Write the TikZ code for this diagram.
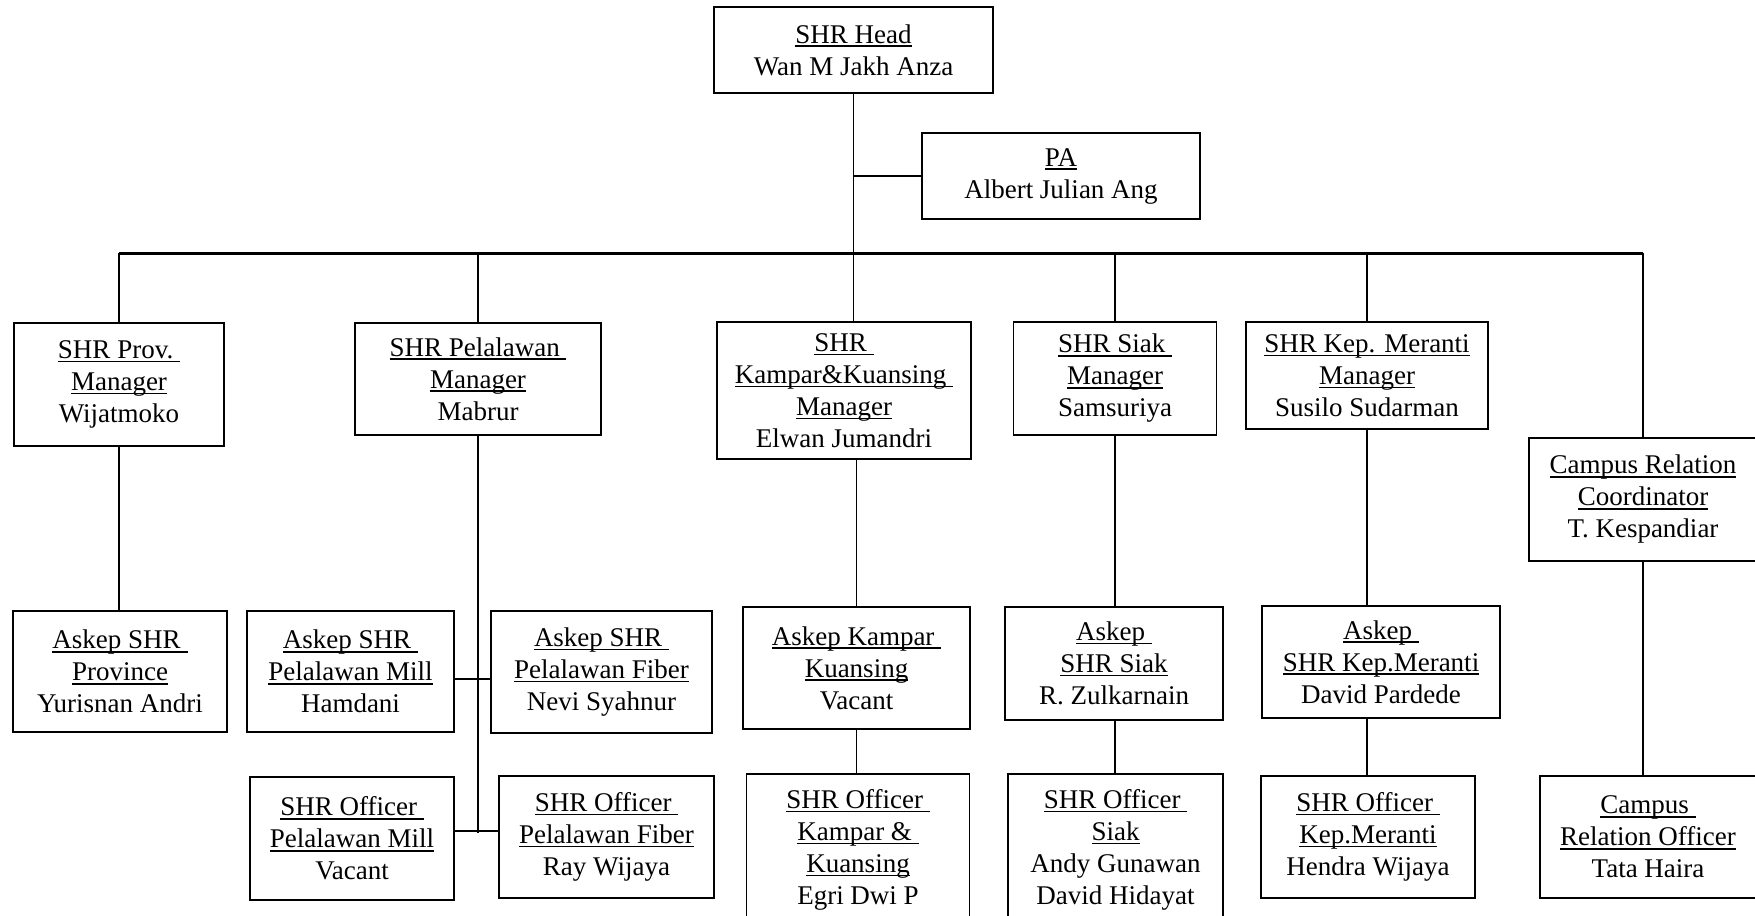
\documentclass[tikz,border=0pt]{standalone}
\usepackage{fontspec}
\setmainfont{Liberation Serif}
\newcommand{\ulined}[1]{\setbox0\hbox{#1}\rlap{\rule[-1.9pt]{\wd0}{0.8pt}}\box0}
\tikzset{
  unit/.style={draw, rectangle, line width=0.75pt, align=center, inner sep=2pt,
    font=\fontsize{13.5}{16}\selectfont},
  link/.style={line width=0.75pt},
  busline/.style={line width=1.5pt}
}
\begin{document}
\begin{tikzpicture}[x=0.5pt, y=-0.5pt]
\useasboundingbox (0,0) rectangle (1755,915);
% top
\node[unit, minimum width=139.5pt, minimum height=43pt] (head) at (853.5,50) {\ulined{SHR Head}\\Wan M Jakh Anza};
\node[unit, minimum width=139pt, minimum height=43pt] (pa) at (1061,176) {\ulined{PA}\\Albert Julian Ang};
% managers
\node[unit, minimum width=105pt, minimum height=61.5pt] (prov) at (119,384.5) {\ulined{SHR Prov.\ }\\\ulined{Manager}\\Wijatmoko};
\node[unit, minimum width=123pt, minimum height=56pt] (pel) at (478,379) {\ulined{SHR Pelalawan\ }\\\ulined{Manager}\\Mabrur};
\node[unit, minimum width=127pt, minimum height=68.5pt] (kam) at (844,390.5) {\ulined{SHR\ }\\\ulined{Kampar\&Kuansing\ }\\\ulined{Manager}\\Elwan Jumandri};
\node[unit, minimum width=101.5pt, minimum height=56.5pt] (siak) at (1115,378.5) {\ulined{SHR Siak\ }\\\ulined{Manager}\\Samsuriya};
\node[unit, minimum width=121pt, minimum height=53.5pt] (mer) at (1367,375.5) {\ulined{SHR Kep. Meranti}\\\ulined{Manager}\\Susilo Sudarman};
\node[unit, minimum width=114pt, minimum height=61.5pt] (crc) at (1643,499.5) {\ulined{Campus Relation}\\\ulined{Coordinator}\\T. Kespandiar};
% askep
\node[unit, minimum width=107pt, minimum height=60.5pt] (askprov) at (120,671.5) {\ulined{Askep SHR\ }\\\ulined{Province}\\Yurisnan Andri};
\node[unit, minimum width=103.5pt, minimum height=60.5pt] (askmill) at (350.5,671.5) {\ulined{Askep SHR\ }\\\ulined{Pelalawan Mill}\\Hamdani};
\node[unit, minimum width=110.5pt, minimum height=61pt] (askfib) at (601.5,672) {\ulined{Askep SHR\ }\\\ulined{Pelalawan Fiber}\\Nevi Syahnur};
\node[unit, minimum width=113.5pt, minimum height=61pt] (askkam) at (856.5,668) {\ulined{Askep Kampar\ }\\\ulined{Kuansing}\\Vacant};
\node[unit, minimum width=109pt, minimum height=56.5pt] (asksiak) at (1114,663.5) {\ulined{Askep\ }\\\ulined{SHR Siak}\\R. Zulkarnain};
\node[unit, minimum width=119pt, minimum height=56pt] (askmer) at (1381,662) {\ulined{Askep\ }\\\ulined{SHR Kep.Meranti}\\David Pardede};
% officers
\node[unit, minimum width=102pt, minimum height=61.5pt] (offmill) at (352,838.5) {\ulined{SHR Officer\ }\\\ulined{Pelalawan Mill}\\Vacant};
\node[unit, minimum width=107.5pt, minimum height=61pt] (offfib) at (606.5,837) {\ulined{SHR Officer\ }\\\ulined{Pelalawan Fiber}\\Ray Wijaya};
\node[unit, minimum width=111.5pt, minimum height=76pt] (offkam) at (858,850) {\ulined{SHR Officer\ }\\\ulined{Kampar \&\ }\\\ulined{Kuansing}\\Egri Dwi P};
\node[unit, minimum width=107.5pt, minimum height=76pt] (offsiak) at (1115.5,850) {\ulined{SHR Officer\ }\\\ulined{Siak}\\Andy Gunawan\\David Hidayat};
\node[unit, minimum width=107pt, minimum height=61pt] (offmer) at (1368,837) {\ulined{SHR Officer\ }\\\ulined{Kep.Meranti}\\Hendra Wijaya};
\node[unit, minimum width=108pt, minimum height=61pt] (cro) at (1648,837) {\ulined{Campus\ }\\\ulined{Relation Officer}\\Tata Haira};
% bus
\coordinate (bus) at (0,253);
\draw[busline] (prov.north |- bus) -- (crc.north |- bus);
% connectors
\draw[link] (head.south) -- (head.south |- kam.north);
\draw[link] (head.south |- pa.west) -- (pa.west);
\draw[link] (prov.north |- bus) -- (prov.north);
\draw[link] (pel.north |- bus) -- (pel.north);
\draw[link] (siak.north |- bus) -- (siak.north);
\draw[link] (mer.north |- bus) -- (mer.north);
\draw[link] (crc.north |- bus) -- (crc.north);
\draw[link] (prov.south) -- (prov.south |- askprov.north);
\draw[line width=1.1pt] (pel.south) -- ([yshift=2.75pt]offmill.east -| pel.south);
\draw[link] ([yshift=-3.75pt]askmill.east) -- ([yshift=-3.75pt]askmill.east -| askfib.west);
\draw[link] ([yshift=3.75pt]offmill.east) -- ([yshift=3.75pt]offmill.east -| offfib.west);
\draw[link] (askkam.north |- kam.south) -- (askkam.north);
\draw[link] (askkam.south) -- (askkam.south |- offkam.north);
\draw[link] (siak.south) -- (siak.south |- asksiak.north);
\draw[link] (siak.south |- asksiak.south) -- (siak.south |- offsiak.north);
\draw[link] (mer.south) -- (mer.south |- askmer.north);
\draw[link] (mer.south |- askmer.south) -- (mer.south |- offmer.north);
\draw[link] (crc.south) -- (crc.south |- cro.north);
\end{tikzpicture}
\end{document}
